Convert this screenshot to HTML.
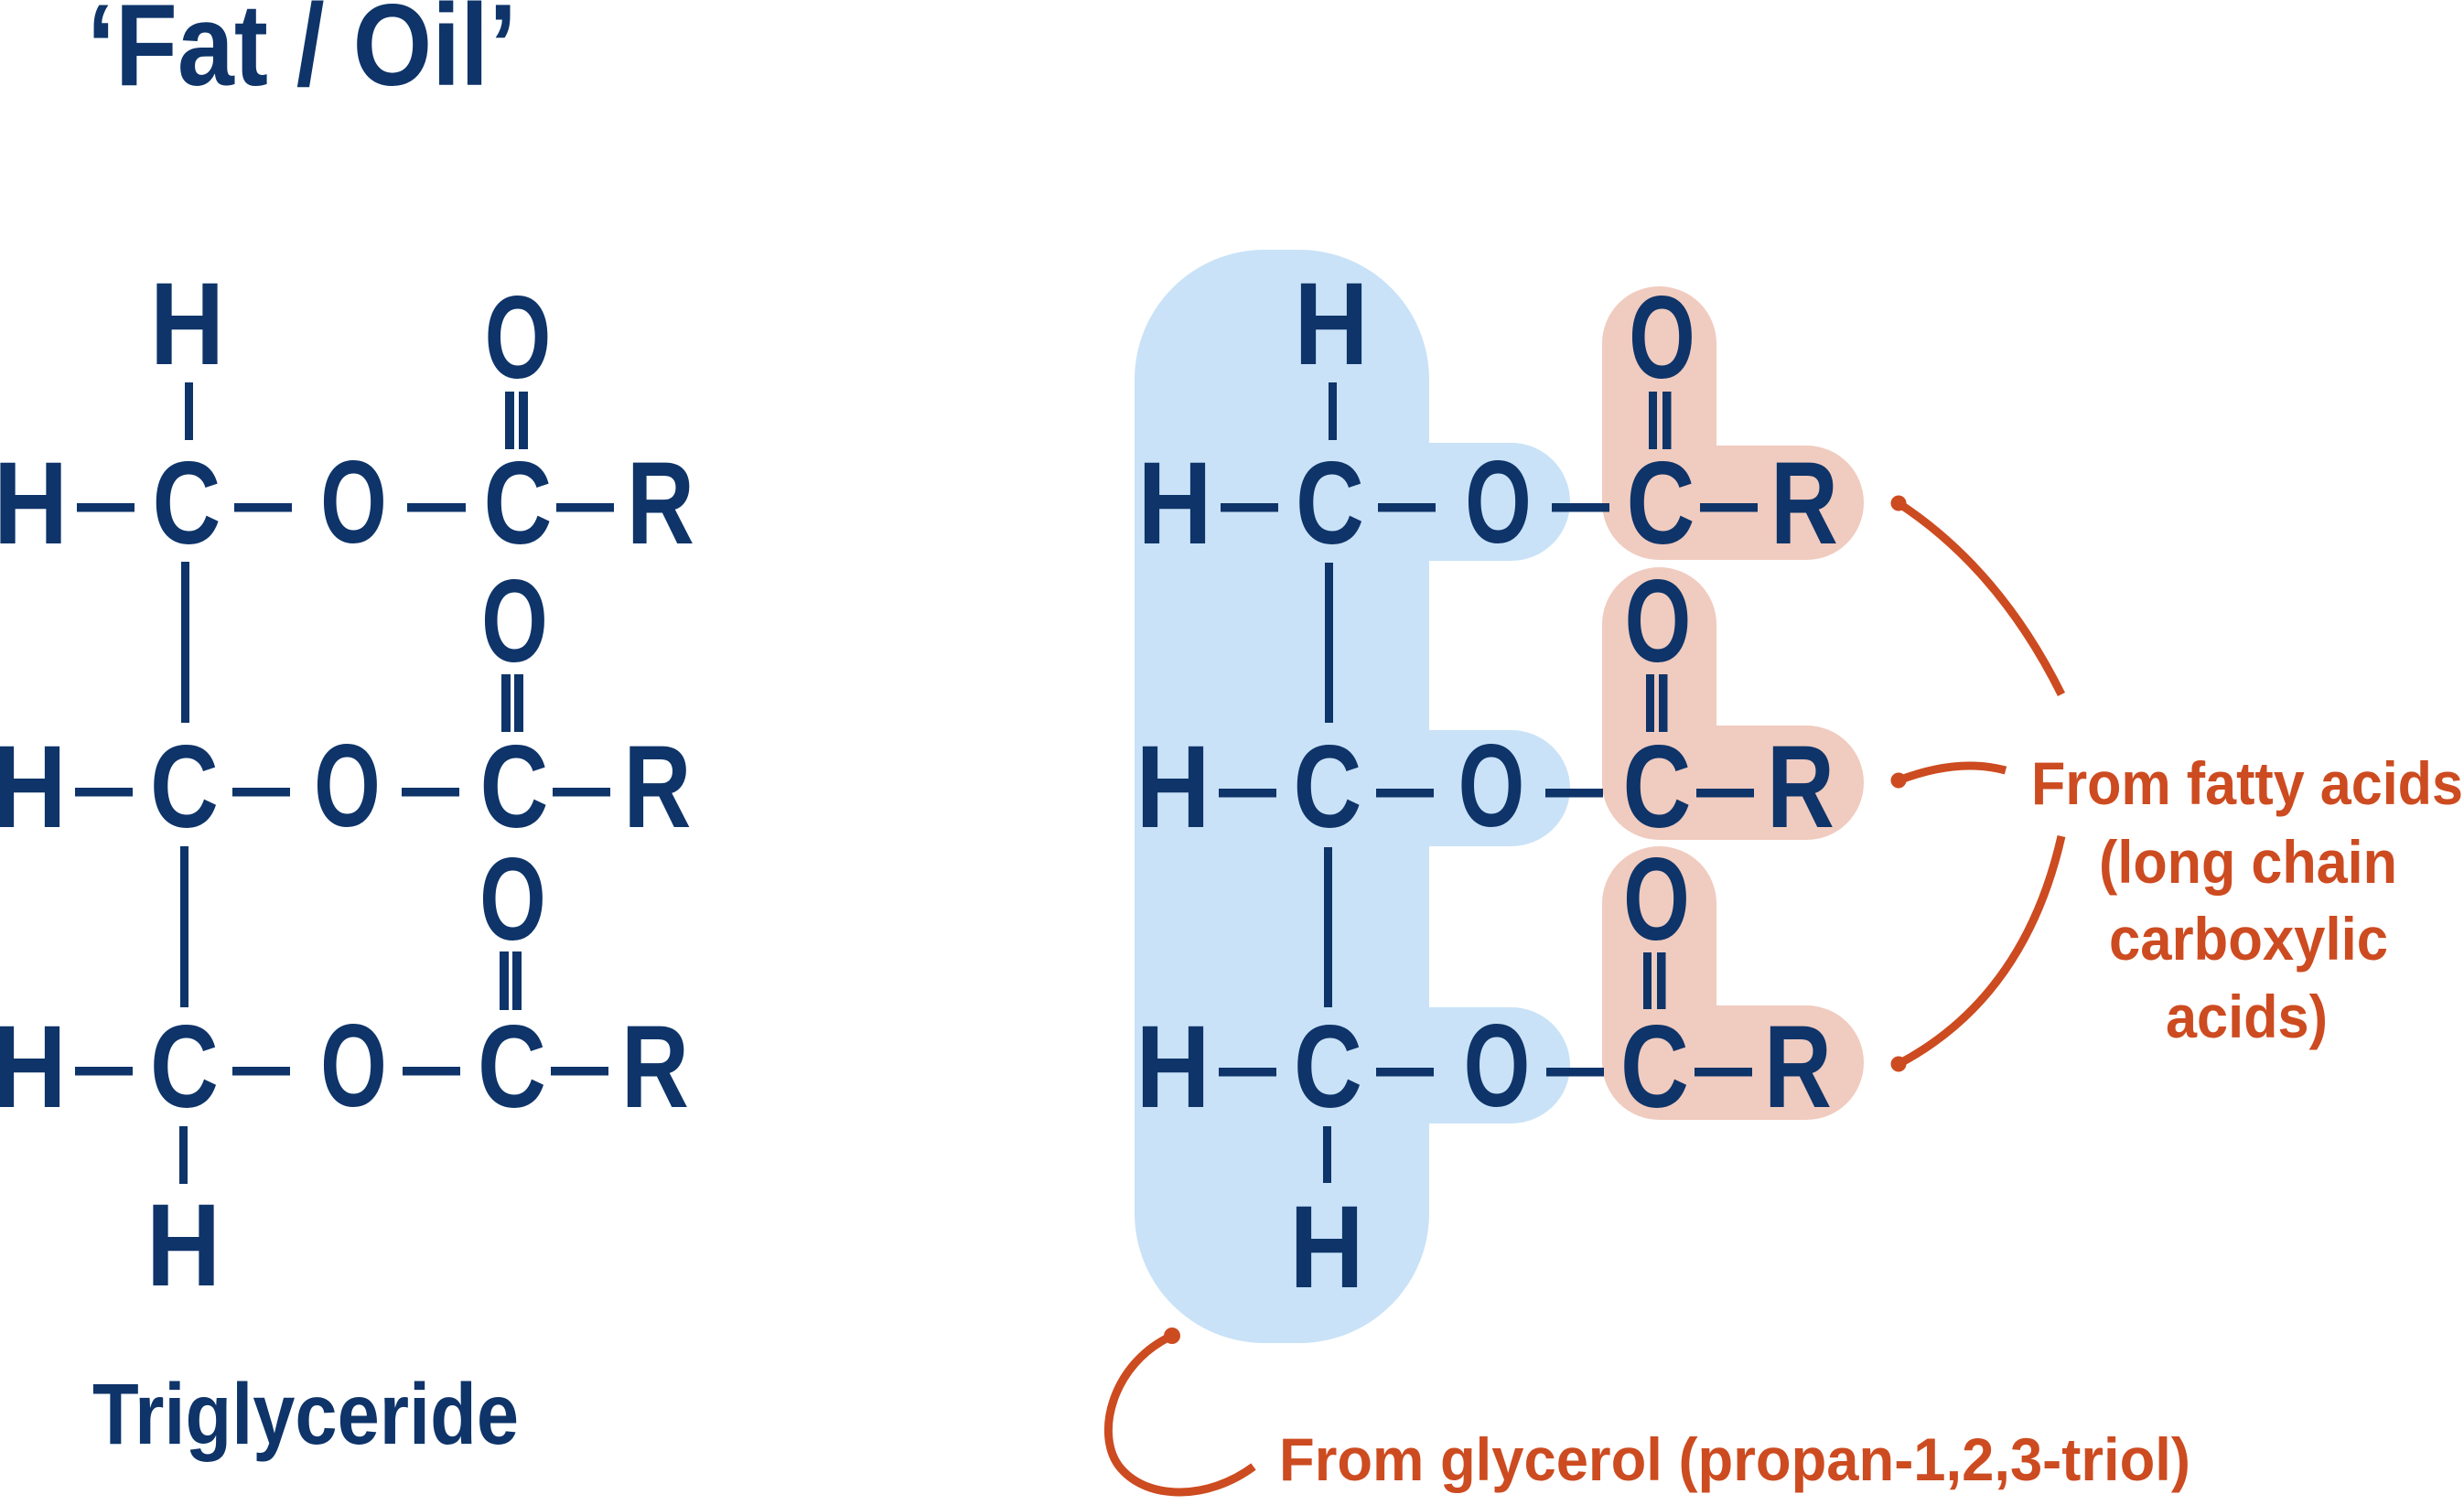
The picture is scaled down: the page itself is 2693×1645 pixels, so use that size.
<!DOCTYPE html>
<html>
<head>
<meta charset="utf-8">
<style>
  html,body{margin:0;padding:0;background:#fff;}
  svg{display:block;}
  .n{fill:#0e3469;font-family:"Liberation Sans",sans-serif;font-weight:bold;font-size:128px;}
  .t{fill:#0e3469;font-family:"Liberation Sans",sans-serif;font-weight:bold;}
  .o{fill:#cd4b20;font-family:"Liberation Sans",sans-serif;font-weight:bold;font-size:66px;}
  .b{fill:#0e3469;}
  .arc{fill:none;stroke:#cd4b20;stroke-width:9;}
</style>
</head>
<body>
<svg width="2693" height="1645" viewBox="0 0 2693 1645" xmlns="http://www.w3.org/2000/svg">
  <rect width="2693" height="1645" fill="#fff"/>

  <!-- Title -->
  <text class="t" x="95" y="93" font-size="127" textLength="470" lengthAdjust="spacingAndGlyphs">‘Fat / Oil’</text>

  <!-- Triglyceride label -->
  <text class="t" x="101" y="1578" font-size="95" textLength="466" lengthAdjust="spacingAndGlyphs">Triglyceride</text>

  <!-- ============ LEFT STRUCTURE ============ -->
  <!-- bonds -->
  <g class="b">
    <!-- row1 -->
    <rect x="84" y="550" width="63" height="9.5"/>
    <rect x="256" y="550" width="63" height="9.5"/>
    <rect x="445" y="550" width="64" height="9.5"/>
    <rect x="608" y="550" width="63" height="9.5"/>
    <rect x="202" y="418" width="9" height="63"/>
    <rect x="552" y="428" width="10" height="63"/>
    <rect x="567" y="428" width="10" height="63"/>
    <!-- row2 -->
    <rect x="82" y="861" width="63" height="9.5"/>
    <rect x="254" y="861" width="63" height="9.5"/>
    <rect x="439" y="861" width="63" height="9.5"/>
    <rect x="604" y="861" width="63" height="9.5"/>
    <rect x="548" y="737" width="10" height="63"/>
    <rect x="562" y="737" width="10" height="63"/>
    <rect x="198" y="614" width="9" height="176"/>
    <!-- row3 -->
    <rect x="82" y="1166" width="63" height="9.5"/>
    <rect x="254" y="1166" width="63" height="9.5"/>
    <rect x="440" y="1166" width="63" height="9.5"/>
    <rect x="602" y="1166" width="63" height="9.5"/>
    <rect x="546" y="1040" width="10" height="64"/>
    <rect x="560" y="1040" width="10" height="64"/>
    <rect x="197" y="925" width="9" height="176"/>
    <rect x="196" y="1231" width="9" height="63"/>
  </g>
  <!-- letters -->
  <g class="n" text-anchor="middle">
    <!-- top H -->
    <text transform="translate(204.5,398) scale(0.88,1)">H</text>
    <!-- row1 -->
    <text transform="translate(33.5,594) scale(0.88,1)">H</text>
    <text transform="translate(204,594) scale(0.81,1)">C</text>
    <text transform="translate(386.5,593) scale(0.73,1)">O</text>
    <text transform="translate(566,594) scale(0.81,1)">C</text>
    <text transform="translate(722,594) scale(0.8,1)">R</text>
    <text transform="translate(566,413) scale(0.73,1)">O</text>
    <!-- row2 -->
    <text transform="translate(32,904) scale(0.88,1)">H</text>
    <text transform="translate(201.5,904) scale(0.81,1)">C</text>
    <text transform="translate(379.5,903) scale(0.73,1)">O</text>
    <text transform="translate(562,904) scale(0.81,1)">C</text>
    <text transform="translate(718.5,904) scale(0.8,1)">R</text>
    <text transform="translate(562.5,723) scale(0.73,1)">O</text>
    <!-- row3 -->
    <text transform="translate(32,1210) scale(0.88,1)">H</text>
    <text transform="translate(201.5,1210) scale(0.81,1)">C</text>
    <text transform="translate(386.5,1209) scale(0.73,1)">O</text>
    <text transform="translate(559.5,1210) scale(0.81,1)">C</text>
    <text transform="translate(716,1210) scale(0.8,1)">R</text>
    <text transform="translate(560.5,1027) scale(0.73,1)">O</text>
    <!-- bottom H -->
    <text transform="translate(200.5,1405) scale(0.88,1)">H</text>
  </g>

  <!-- ============ RIGHT STRUCTURE ============ -->
  <!-- blue glycerol shape -->
  <g fill="#c9e2f7">
    <rect x="1240" y="273" width="322" height="1195" rx="142" ry="142"/>
    <path d="M1500,484 H1651.5 A64.5,64.5 0 0 1 1651.5,613 H1500 Z"/>
    <path d="M1500,798 H1651.5 A64.5,63.5 0 0 1 1651.5,925 H1500 Z"/>
    <path d="M1500,1101 H1651.5 A64.5,63.5 0 0 1 1651.5,1228 H1500 Z"/>
  </g>
  <!-- pink fatty acid shapes -->
  <g fill="#f0cbbf">
    <path d="M1751,375.5 A62.5,62.5 0 0 1 1876,375.5 V487 H1974.5 A62.5,62.5 0 0 1 1974.5,612 H1813.5 A62.5,62.5 0 0 1 1751,549.5 Z"/>
    <path d="M1751,682.5 A62.5,62.5 0 0 1 1876,682.5 V793 H1974.5 A62.5,62.5 0 0 1 1974.5,918 H1813.5 A62.5,62.5 0 0 1 1751,855.5 Z"/>
    <path d="M1751,987.5 A62.5,62.5 0 0 1 1876,987.5 V1099 H1974.5 A62.5,62.5 0 0 1 1974.5,1224 H1813.5 A62.5,62.5 0 0 1 1751,1161.5 Z"/>
  </g>
  <!-- bonds -->
  <g class="b">
    <!-- row1 -->
    <rect x="1334" y="550" width="63" height="9.5"/>
    <rect x="1506" y="550" width="63" height="9.5"/>
    <rect x="1696" y="550" width="63" height="9.5"/>
    <rect x="1858" y="550" width="63" height="9.5"/>
    <rect x="1452" y="418" width="9" height="63"/>
    <rect x="1802" y="428" width="9" height="63"/>
    <rect x="1817" y="428" width="9.5" height="63"/>
    <!-- row2 -->
    <rect x="1332" y="862" width="63" height="9.5"/>
    <rect x="1504" y="862" width="63" height="9.5"/>
    <rect x="1689" y="862" width="63" height="9.5"/>
    <rect x="1854" y="862" width="63" height="9.5"/>
    <rect x="1799" y="737" width="9" height="63"/>
    <rect x="1813" y="737" width="9.5" height="63"/>
    <rect x="1448" y="615" width="9" height="175"/>
    <!-- row3 -->
    <rect x="1332" y="1167" width="63" height="9.5"/>
    <rect x="1504" y="1167" width="63" height="9.5"/>
    <rect x="1690" y="1167" width="63" height="9.5"/>
    <rect x="1852" y="1167" width="63" height="9.5"/>
    <rect x="1796" y="1041" width="9" height="62"/>
    <rect x="1811" y="1041" width="9.5" height="62"/>
    <rect x="1447" y="926" width="9" height="175"/>
    <rect x="1446" y="1231" width="9" height="62"/>
  </g>
  <!-- letters -->
  <g class="n" text-anchor="middle">
    <text transform="translate(1455,398) scale(0.88,1)">H</text>
    <!-- row1 -->
    <text transform="translate(1284,594) scale(0.88,1)">H</text>
    <text transform="translate(1453.5,594) scale(0.81,1)">C</text>
    <text transform="translate(1637.5,593) scale(0.73,1)">O</text>
    <text transform="translate(1815,594) scale(0.81,1)">C</text>
    <text transform="translate(1972,594) scale(0.8,1)">R</text>
    <text transform="translate(1816.5,413) scale(0.73,1)">O</text>
    <!-- row2 -->
    <text transform="translate(1282,904) scale(0.88,1)">H</text>
    <text transform="translate(1451,904) scale(0.81,1)">C</text>
    <text transform="translate(1630,903) scale(0.73,1)">O</text>
    <text transform="translate(1811,904) scale(0.81,1)">C</text>
    <text transform="translate(1968,904) scale(0.8,1)">R</text>
    <text transform="translate(1812,723) scale(0.73,1)">O</text>
    <!-- row3 -->
    <text transform="translate(1282,1210) scale(0.88,1)">H</text>
    <text transform="translate(1451.5,1210) scale(0.81,1)">C</text>
    <text transform="translate(1636,1209) scale(0.73,1)">O</text>
    <text transform="translate(1808.5,1210) scale(0.81,1)">C</text>
    <text transform="translate(1965,1210) scale(0.8,1)">R</text>
    <text transform="translate(1810.5,1027) scale(0.73,1)">O</text>
    <text transform="translate(1450,1407) scale(0.88,1)">H</text>
  </g>

  <!-- ============ ANNOTATIONS ============ -->
  <g>
    <path class="arc" d="M2075,550 Q2185,622 2253,759"/>
    <circle cx="2075" cy="550" r="8.5" fill="#cd4b20"/>
    <path class="arc" d="M2075,853 Q2140,828 2192,842"/>
    <circle cx="2075" cy="853" r="8.5" fill="#cd4b20"/>
    <path class="arc" d="M2253,914 Q2213,1090 2075,1163"/>
    <circle cx="2075" cy="1163" r="8.5" fill="#cd4b20"/>

    <path class="arc" stroke-width="10" d="M1281,1460 C1215,1490 1195,1570 1225,1605 C1255,1640 1320,1640 1370,1603"/>
    <circle cx="1281" cy="1460" r="9" fill="#cd4b20"/>
  </g>

  <text class="o" x="2220" y="879" textLength="472" lengthAdjust="spacingAndGlyphs">From fatty acids</text>
  <text class="o" x="2294" y="965" textLength="326" lengthAdjust="spacingAndGlyphs">(long chain</text>
  <text class="o" x="2305" y="1049" textLength="305" lengthAdjust="spacingAndGlyphs">carboxylic</text>
  <text class="o" x="2367" y="1134" textLength="177" lengthAdjust="spacingAndGlyphs">acids)</text>

  <text class="o" x="1398" y="1618" textLength="996" lengthAdjust="spacingAndGlyphs">From glycerol (propan-1,2,3-triol)</text>
</svg>
</body>
</html>
